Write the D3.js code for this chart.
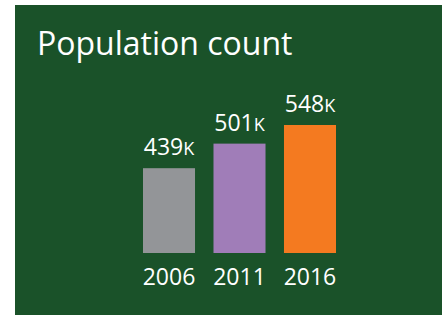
<!DOCTYPE html>
<html>
<head>
<meta charset="utf-8">
<script src="https://cdn.jsdelivr.net/npm/d3@7"></script>
<style>
  body { margin: 0; background: #fff; }
  text { font-family: "Open Sans", sans-serif; fill: #fff; }
</style>
</head>
<body>
<div id="chart"></div>
<script>
const years = ["2006", "2011", "2016"];
const population = [439, 501, 548];
const barColors = ["#939598", "#a07db8", "#f47a20"];
const title = "Population count";

const width = 442;
const height = 315;

const svg = d3.select("#chart")
    .append("svg")
    .attr("width", width)
    .attr("height", height);

svg.append("rect")
    .attr("x", 15)
    .attr("y", 5)
    .attr("width", width - 15)
    .attr("height", height - 5)
    .attr("fill", "#1a5229");

svg.append("text")
    .attr("x", 37)
    .attr("y", 55)
    .attr("font-size", 32)
    .text(title);

const x = d3.scaleBand()
    .domain(years)
    .range([143, 336])
    .paddingInner(0.262)
    .paddingOuter(0);

// bars start from a truncated baseline, like the original graphic
const y = d3.scaleLinear()
    .domain([225, 548])
    .range([253, 125]);

const bars = svg.append("g")
    .selectAll("g")
    .data(years)
    .join("g");

bars.append("rect")
    .attr("x", d => x(d))
    .attr("width", x.bandwidth())
    .attr("y", (d, i) => y(population[i]))
    .attr("height", (d, i) => y(225) - y(population[i]))
    .attr("fill", (d, i) => barColors[i]);

const label = bars.append("text")
    .attr("x", d => x(d) + x.bandwidth() / 2)
    .attr("y", (d, i) => y(population[i]) - 13)
    .attr("text-anchor", "middle")
    .attr("font-size", 23);

label.append("tspan").text((d, i) => population[i]);
label.append("tspan").attr("font-size", 18).text("K");

bars.append("text")
    .attr("x", d => x(d) + x.bandwidth() / 2)
    .attr("y", 285)
    .attr("text-anchor", "middle")
    .attr("font-size", 23)
    .text(d => d);
</script>
</body>
</html>
